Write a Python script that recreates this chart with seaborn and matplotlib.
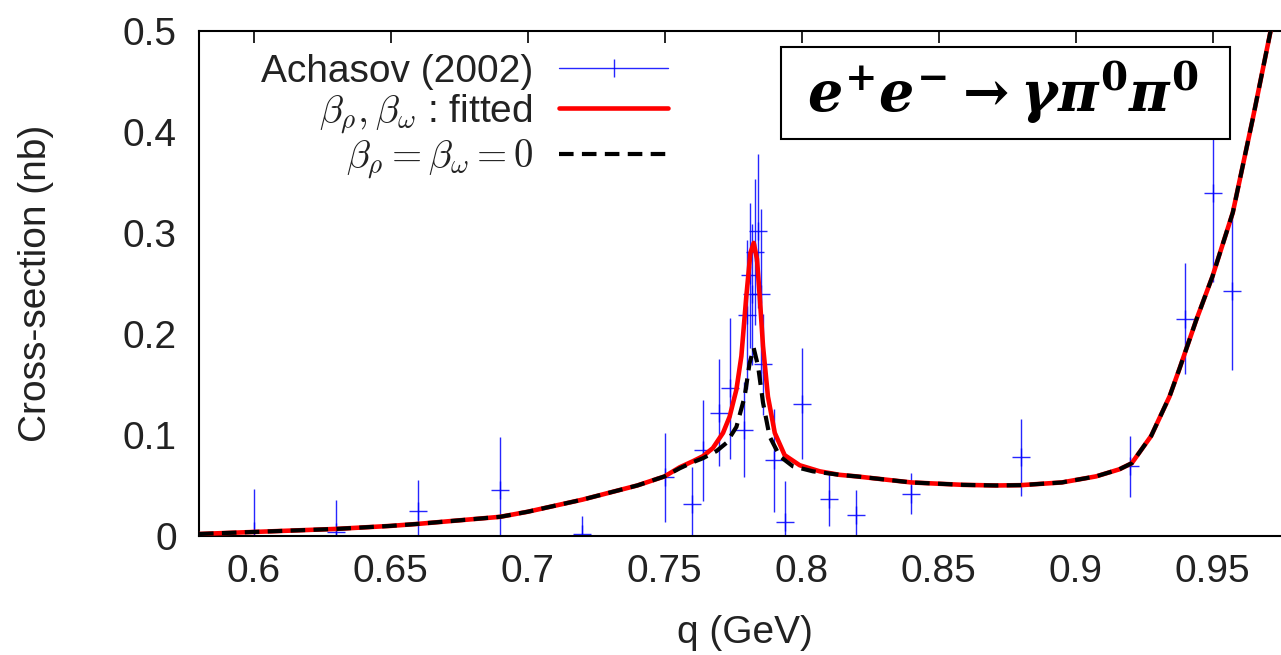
import matplotlib
matplotlib.use("Agg")
import numpy as np
import pandas as pd
import matplotlib.pyplot as plt
import seaborn as sns
from matplotlib.lines import Line2D
from matplotlib.patches import Rectangle

# ---------------- data ----------------
q_data = [0.600, 0.630, 0.660, 0.690, 0.720, 0.750, 0.760, 0.764, 0.770, 0.774,
          0.779, 0.780, 0.781, 0.782, 0.783, 0.784, 0.785, 0.786, 0.790, 0.794,
          0.800, 0.810, 0.820, 0.840, 0.880, 0.920, 0.940, 0.950, 0.957]
sigma_data = [0.005, 0.004, 0.025, 0.046, 0.002, 0.058, 0.032, 0.085, 0.122, 0.146,
              0.105, 0.219, 0.258, 0.239, 0.281, 0.302, 0.239, 0.170, 0.075, 0.014,
              0.131, 0.037, 0.021, 0.042, 0.078, 0.069, 0.215, 0.339, 0.242]
sigma_err = [0.042, 0.032, 0.030, 0.052, 0.018, 0.044, 0.036, 0.050, 0.053, 0.070,
             0.047, 0.074, 0.072, 0.070, 0.072, 0.076, 0.085, 0.050, 0.051, 0.040,
             0.055, 0.027, 0.025, 0.020, 0.038, 0.030, 0.055, 0.088, 0.078]

q_fit = [0.580, 0.600, 0.630, 0.650, 0.660, 0.690, 0.700, 0.720, 0.740, 0.750,
         0.7555, 0.7603, 0.7640, 0.7676, 0.7713, 0.7737, 0.7762, 0.7780, 0.7798,
         0.7813, 0.7825, 0.7837, 0.7847, 0.7859, 0.7877, 0.7902, 0.7938, 0.7993,
         0.8066, 0.8139, 0.820, 0.840, 0.859, 0.871, 0.880, 0.895, 0.9075, 0.916,
         0.9205, 0.9276, 0.9343, 0.938, 0.9441, 0.950, 0.9574, 0.9647, 0.9716]
sigma_fit = [0.002, 0.004, 0.007, 0.010, 0.012, 0.019, 0.024, 0.036, 0.050, 0.059,
             0.068, 0.074, 0.079, 0.087, 0.102, 0.118, 0.145, 0.178, 0.237,
             0.280, 0.290, 0.274, 0.237, 0.188, 0.138, 0.102, 0.080, 0.070,
             0.064, 0.0605, 0.059, 0.053, 0.0506, 0.050, 0.0503, 0.053, 0.059, 0.066,
             0.072, 0.099, 0.138, 0.166, 0.214, 0.257, 0.320, 0.413, 0.505]

q_zero = [0.580, 0.600, 0.630, 0.650, 0.660, 0.690, 0.700, 0.720, 0.740, 0.750,
          0.7555, 0.7603, 0.7640, 0.7689, 0.7725, 0.7762, 0.7792, 0.7810, 0.7825,
          0.7841, 0.7859, 0.7883, 0.7920, 0.7968, 0.8041, 0.8139, 0.820, 0.840,
          0.859, 0.871, 0.880, 0.895, 0.9075, 0.916, 0.9205, 0.9276, 0.9343, 0.938,
          0.9441, 0.950, 0.9574, 0.9647, 0.9716]
sigma_zero = [0.002, 0.004, 0.007, 0.010, 0.012, 0.019, 0.024, 0.036, 0.050, 0.059,
              0.067, 0.073, 0.077, 0.084, 0.092, 0.108, 0.138, 0.171, 0.186,
              0.168, 0.132, 0.0985, 0.079, 0.069, 0.064, 0.0605, 0.059, 0.053,
              0.0506, 0.050, 0.0503, 0.053, 0.059, 0.066, 0.072, 0.099, 0.138, 0.166,
              0.214, 0.257, 0.320, 0.413, 0.505]

x_ticks = [0.60, 0.65, 0.70, 0.75, 0.80, 0.85, 0.90, 0.95]
x_tick_labels = ["0.6", "0.65", "0.7", "0.75", "0.8", "0.85", "0.9", "0.95"]
y_ticks = [0.0, 0.1, 0.2, 0.3, 0.4, 0.5]
y_tick_labels = ["0", "0.1", "0.2", "0.3", "0.4", "0.5"]

label_data = "Achasov (2002)"
label_fit = r"$\beta_\rho, \beta_\omega$ : fitted"
label_zero = r"$\beta_\rho = \beta_\omega = 0$"
x_label = "q (GeV)"
y_label = "Cross-section (nb)"
reaction = r"$e^{+}e^{-}\rightarrow\gamma\pi^{0}\pi^{0}$"

# ---------------- style ----------------
sns.set_theme(style="white")
plt.rcParams["font.family"] = ["Liberation Sans", "DejaVu Sans"]
plt.rcParams["mathtext.fontset"] = "cm"
plt.rcParams["axes.linewidth"] = 1.5
# bold-italic maths used only by the reaction label (math_fontfamily="custom")
plt.rcParams["mathtext.it"] = "DejaVu Serif:italic:bold"
plt.rcParams["mathtext.rm"] = "DejaVu Serif:bold"
plt.rcParams["mathtext.bf"] = "DejaVu Serif:bold"
text_color = "#222222"
FS = 28

W, H = 1281, 655
fig = plt.figure(figsize=(W / 100, H / 100), dpi=100)
ax_left, ax_right, ax_top, ax_bottom = 199, 1281, 30.7, 536
ax = fig.add_axes([ax_left / W, 1 - ax_bottom / H,
                   (ax_right - ax_left) / W, (ax_bottom - ax_top) / H])

ax.errorbar(q_data, sigma_data, yerr=sigma_err, fmt="+", color="#0000ff",
            ecolor="#0000ff", elinewidth=1.0, markersize=13, markeredgewidth=1.0,
            capsize=0, zorder=2, alpha=0.85)

df_fit = pd.DataFrame({"q": q_fit, "sigma": sigma_fit})
df_zero = pd.DataFrame({"q": q_zero, "sigma": sigma_zero})
sns.lineplot(data=df_fit, x="q", y="sigma", ax=ax, color="#ff0000", lw=3.3,
             estimator=None, sort=False, zorder=3)
sns.lineplot(data=df_zero, x="q", y="sigma", ax=ax, color="black", lw=3.0,
             estimator=None, sort=False, zorder=4)
ax.lines[-1].set_dashes([3.5, 2.0])

ax.set_xlim(0.58, 0.975)
ax.set_ylim(0, 0.5)
ax.set_xticks(x_ticks)
ax.set_xticklabels(x_tick_labels)
ax.set_yticks(y_ticks)
ax.set_yticklabels(y_tick_labels)
ax.tick_params(axis="both", direction="in", length=8.5, width=1.2,
               top=True, right=False, labelsize=FS, colors="black",
               labelcolor=text_color)
ax.tick_params(axis="x", pad=13)
ax.tick_params(axis="y", pad=16)
for s in ["left", "bottom", "top"]:
    ax.spines[s].set_color("black")
    ax.spines[s].set_linewidth(1.5)
ax.spines["right"].set_visible(False)

ax.set_xlabel(x_label, fontsize=FS, color=text_color)
ax.set_ylabel(y_label, fontsize=FS, color=text_color)
ax.xaxis.set_label_coords((745 - ax_left) / (ax_right - ax_left),
                          -(615 - ax_bottom) / (ax_bottom - ax_top))
ax.yaxis.set_label_coords(-(ax_left - 54) / (ax_right - ax_left), 0.5)

h_data = Line2D([], [], color="#0000ff", lw=1.0, marker="|", markersize=13,
                markeredgewidth=1.0, alpha=0.85)
h_fit = Line2D([], [], color="#ff0000", lw=3.3)
h_zero = Line2D([], [], color="black", lw=3.0, dashes=[3.5, 2.0])
leg = ax.legend([h_data, h_fit, h_zero], [label_data, label_fit, label_zero],
                loc="upper right", bbox_to_anchor=(668 / W, 1 - 54 / H),
                bbox_transform=fig.transFigure, frameon=False, markerfirst=False,
                fontsize=FS, handlelength=2.8, handletextpad=0.67,
                labelspacing=0.05, borderpad=0, borderaxespad=0)
for t in leg.get_texts():
    t.set_color(text_color)

fig.patches.append(Rectangle((781 / W, 1 - 139 / H), (1230 - 781) / W, (139 - 47) / H,
                             transform=fig.transFigure, fill=True, facecolor="white",
                             edgecolor="black", lw=1.5, zorder=5))
fig.text(1003 / W, 1 - 93 / H, reaction, fontsize=40, ha="center", va="center",
         color="black", zorder=6, math_fontfamily="custom")

fig.savefig("out.png", dpi=100)
